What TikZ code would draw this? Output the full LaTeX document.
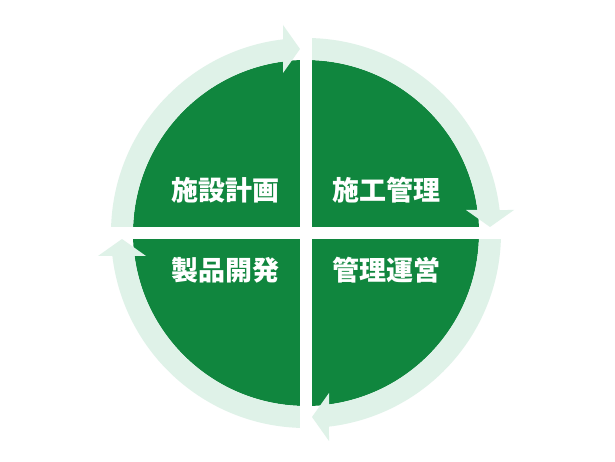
\documentclass[tikz,border=0pt]{standalone}
\usepackage{fontspec}
\newfontfamily\cjk{Noto Sans CJK JP}
\definecolor{darkgreen}{RGB}{16,134,62}
\definecolor{lightgreen}{RGB}{223,242,232}
\tikzset{
  quadlabel/.style={text=white, font=\cjk\bfseries\fontsize{27}{30}\selectfont, inner sep=0pt},
  ringarrow/.style={fill=lightgreen, draw=none}
}
\begin{document}
\begin{tikzpicture}[x=1pt,y=1pt]
\useasboundingbox (0,0) rectangle (615,462);
\fill[white] (0,0) rectangle (615,462);
\begin{scope}[shift={(306,229)}]
  % dark disc
  \fill[darkgreen] (0,0) circle[radius=173];
  % four ring arrows (clockwise)
  \foreach \r in {0,-90,-180,-270}{
    \fill[ringarrow, rotate=\r]
      (180:195) arc[start angle=180, end angle=96.77, radius=195]
      -- (-23,208) -- (-6,184) -- (-23,160)
      -- (97.64:173) arc[start angle=97.64, end angle=180, radius=173] -- cycle;
  }
  % white cross gap
  \fill[white] (-210,-6) rectangle (210,6);
  \fill[white] (-6,-210) rectangle (6,210);
  % labels
  \node[quadlabel] (a) at (-81,42.5) {施設計画};
  \node[quadlabel] (b) at (80,42.5) {施工管理};
  \node[quadlabel] (c) at (-81,-37) {製品開発};
  \node[quadlabel] (d) at (80,-37) {管理運営};
\end{scope}
\end{tikzpicture}
\end{document}
